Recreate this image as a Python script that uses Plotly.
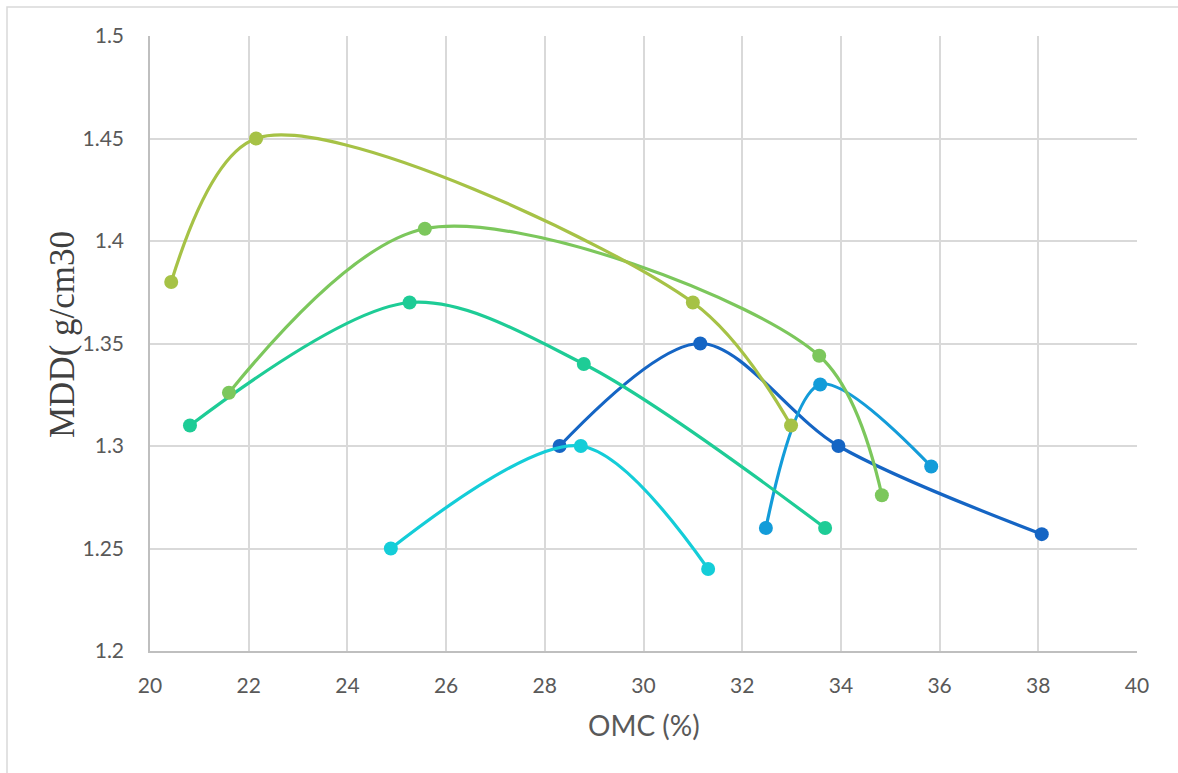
import plotly.graph_objects as go

# OMC (%) vs MDD for each mix, one smoothed curve per series
s1_x = [28.3, 31.15, 33.95, 38.07]
s1_y = [1.30, 1.35, 1.30, 1.257]

s2_x = [32.48, 33.58, 35.83]
s2_y = [1.26, 1.33, 1.29]

s3_x = [24.88, 28.73, 31.31]
s3_y = [1.25, 1.30, 1.24]

s4_x = [20.81, 25.26, 28.79, 33.68]
s4_y = [1.31, 1.37, 1.34, 1.26]

s5_x = [21.60, 25.57, 33.56, 34.83]
s5_y = [1.326, 1.406, 1.344, 1.276]

s6_x = [20.43, 22.15, 31.0, 32.99]
s6_y = [1.38, 1.45, 1.37, 1.31]

y_ticks = [1.2, 1.25, 1.3, 1.35, 1.4, 1.45, 1.5]
y_tick_text = ["1.2", "1.25", "1.3", "1.35", "1.4", "1.45", "1.5"]
x_ticks = [20, 22, 24, 26, 28, 30, 32, 34, 36, 38, 40]

series = [
    (s1_x, s1_y, "#1565C4"),
    (s2_x, s2_y, "#139CD9"),
    (s3_x, s3_y, "#14CDD8"),
    (s4_x, s4_y, "#1ECC96"),
    (s5_x, s5_y, "#7CC75C"),
    (s6_x, s6_y, "#A6C246"),
]

fig = go.Figure()
for xs, ys, col in series:
    fig.add_trace(go.Scatter(
        x=xs, y=ys, mode="lines+markers",
        line=dict(color=col, width=3.2, shape="spline", smoothing=0.9),
        marker=dict(color=col, size=14),
        showlegend=False,
    ))

W, H = 1178, 773
L, R, T, B = 150, 41, 36, 122
pw, ph = W - L - R, H - T - B

fig.update_layout(
    width=W, height=H,
    margin=dict(l=L, r=R, t=T, b=B),
    paper_bgcolor="white", plot_bgcolor="white",
    font=dict(family="Lato, Open Sans, sans-serif", color="#595959"),
    xaxis=dict(
        range=[20, 40], tickvals=x_ticks,
        showgrid=True, gridcolor="#D9D9D9", gridwidth=1.5,
        showline=True, linecolor="#BFBFBF", linewidth=1.5,
        zeroline=False, ticks="", tickfont=dict(size=21, color="#595959"),
        ticklabelstandoff=15,
    ),
    yaxis=dict(
        range=[1.2, 1.5], tickvals=y_ticks, ticktext=y_tick_text,
        showgrid=True, gridcolor="#D9D9D9", gridwidth=1.5,
        showline=True, linecolor="#BFBFBF", linewidth=1.5,
        zeroline=False, ticks="", tickfont=dict(size=21, color="#595959"),
        ticklabelstandoff=20,
    ),
    shapes=[dict(
        type="rect", xref="paper", yref="paper",
        x0=(7 - L) / pw, x1=(W + 10 - L) / pw,
        y0=-(H + 10 - T - ph) / ph, y1=(ph + T - 7) / ph,
        line=dict(color="#D9D9D9", width=1.5), fillcolor="rgba(0,0,0,0)",
        layer="below",
    )],
    annotations=[
        dict(text="OMC (%)", xref="paper", yref="paper",
             x=(644 - L) / pw, y=-(725 - T - ph) / ph,
             xanchor="center", yanchor="middle", showarrow=False,
             font=dict(size=28, color="#595959", family="Lato, Open Sans, sans-serif")),
        dict(text="MDD( g/cm30", xref="paper", yref="paper",
             x=(62 - L) / pw, y=(ph + T - 335) / ph,
             xanchor="center", yanchor="middle", showarrow=False, textangle=-90,
             font=dict(size=35, color="#404040", family="Liberation Serif, Times New Roman, serif")),
    ],
)

fig.write_html("out.html")
